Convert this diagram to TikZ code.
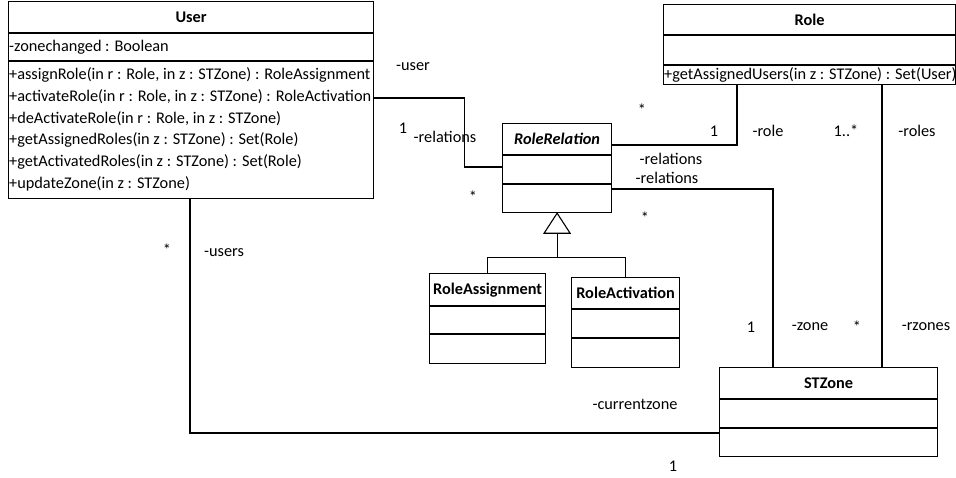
\documentclass[tikz,border=0pt]{standalone}
\usepackage{fontspec}
\setmainfont{Carlito}
\usetikzlibrary{calc}
\begin{document}
\begin{tikzpicture}[x=1pt,y=-1pt,
  every node/.style={font=\fontsize{16.3}{19}\selectfont},
  cls/.style={draw, line width=1.2pt, rectangle, inner sep=0pt, anchor=north west},
  sepline/.style={line width=1.2pt},
  txt/.style={inner sep=0pt, anchor=west},
  ttl/.style={inner sep=0pt, font=\fontsize{16.3}{19}\selectfont\bfseries},
  lbl/.style={inner sep=0pt},
  wire/.style={line width=1.1pt}]
\useasboundingbox (0,0) rectangle (956,477);

% class boxes
\node[cls, minimum width=365pt, minimum height=197pt] (user) at (8,1) {};
\node[cls, minimum width=292pt, minimum height=80pt] (role) at (663,4) {};
\node[cls, minimum width=109pt, minimum height=89pt] (rr) at (502,123) {};
\node[cls, minimum width=116pt, minimum height=90pt] (ra) at (429,273) {};
\node[cls, minimum width=108pt, minimum height=90pt] (rac) at (571,277) {};
\node[cls, minimum width=218pt, minimum height=89pt] (stz) at (719,367) {};

% compartment separators
\foreach \b/\p/\q in {user/32/60, role/31/61, rr/32/61, ra/33/61, rac/32/61, stz/32/61}{
  \draw[sepline] ($(\b.north west)+(0,\p)$) -- ($(\b.north east)+(0,\p)$);
  \draw[sepline] ($(\b.north west)+(0,\q)$) -- ($(\b.north east)+(0,\q)$);
}

% class names
\node[ttl] (usert) at ($(user.north)+(0,16)$) {User};
\node[ttl] (rolet) at ($(role.north)+(0,16)$) {Role};
\node[ttl] (rrt) at ($(rr.north)+(0,16)$) {\itshape RoleRelation};
\node[ttl] (rat) at ($(ra.north)+(0,17)$) {RoleAssignment};
\node[ttl] (ract) at ($(rac.north)+(0,16)$) {RoleActivation};
\node[ttl] (stzt) at ($(stz.north)+(0,16)$) {STZone};

% attributes and operations
\node[txt] (ua1) at (9,47) {-zonechanged : Boolean};
\node[txt] (um1) at (9,75) {+assignRole(in r : Role, in z : STZone) : RoleAssignment};
\node[txt] (um2) at (9,97) {+activateRole(in r : Role, in z : STZone) : RoleActivation};
\node[txt] (um3) at (9,119) {+deActivateRole(in r : Role, in z : STZone)};
\node[txt] (um4) at (9,140) {+getAssignedRoles(in z : STZone) : Set(Role)};
\node[txt] (um5) at (9,162) {+getActivatedRoles(in z : STZone) : Set(Role)};
\node[txt] (um6) at (9,184) {+updateZone(in z : STZone)};
\node[txt] (rm1) at (664,75) {+getAssignedUsers(in z : STZone) : Set(User)};

% associations
\draw[wire] ($(user.north east)+(0,97)$) -- ++(90,0) |- ($(rr.north west)+(0,44)$);
\draw[wire] ($(rr.north east)+(0,22)$) -| ($(role.south west)+(74,0)$);
\draw[wire] ($(rr.north east)+(0,66)$) -| ($(stz.north west)+(54,0)$);
\coordinate (rz) at ($(stz.north west)+(163,0)$);
\draw[wire] (rz) -- (rz |- role.south);
\draw[wire] ($(user.south west)+(182,0)$) |- ($(stz.north west)+(0,66)$);

% generalization
\coordinate (tb) at ($(rr.south)+(0,20)$);
\coordinate (bus) at ($(rr.south)+(0,44)$);
\draw[wire, fill=white] (rr.south) -- ($(tb)+(-13,0)$) -- ($(tb)+(13,0)$) -- cycle;
\draw[wire] (tb) -- (bus);
\draw[wire] (ra.north) |- (bus) -| (rac.north);

% role names and multiplicities
\node[lbl] (l1) at (413,67) {-user};
\node[lbl] (l2) at (403,128) {1};
\node[lbl] (l3) at (445,137) {-relations};
\node[lbl] (l4) at (473,197) {*};
\node[lbl] (l5) at (642,110) {*};
\node[lbl] (l6) at (714,131) {1};
\node[lbl] (l7) at (768,131) {-role};
\node[lbl] (l8) at (846,131) {1..*};
\node[lbl] (l9) at (917,131) {-roles};
\node[lbl] (l10) at (671,159) {-relations};
\node[lbl] (l11) at (667,178) {-relations};
\node[lbl] (l12) at (645,218) {*};
\node[lbl] (l13) at (167,250) {*};
\node[lbl] (l14) at (224,253) {-users};
\node[lbl] (l15) at (751,327) {1};
\node[lbl] (l16) at (810,327) {-zone};
\node[lbl] (l17) at (857,327) {*};
\node[lbl] (l18) at (926,327) {-rzones};
\node[lbl] (l19) at (635,404) {-currentzone};
\node[lbl] (l20) at (673,466) {1};
\end{tikzpicture}
\end{document}
